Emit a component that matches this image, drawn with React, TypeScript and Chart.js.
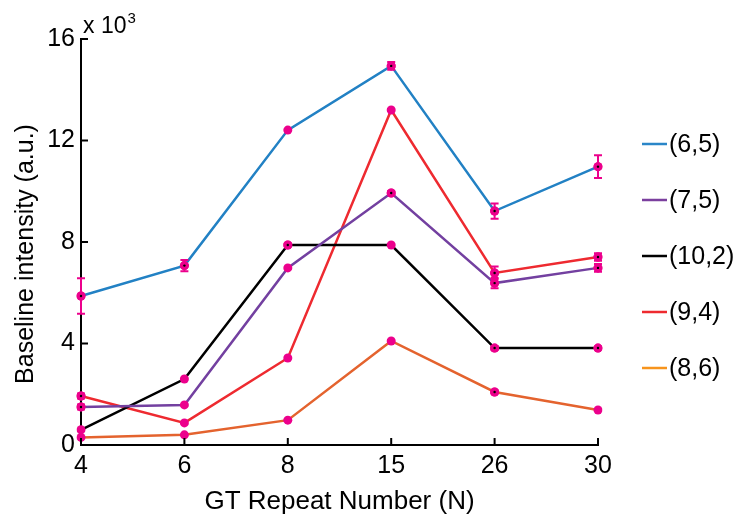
import React, { useEffect, useRef } from "react";
import { Chart, registerables } from "chart.js";

Chart.register(...registerables);

const categories = ["4", "6", "8", "15", "26", "30"];
const seriesNames = ["(6,5)", "(7,5)", "(10,2)", "(9,4)", "(8,6)"];
const s65 = [5.87, 7.07, 12.41, 14.94, 9.22, 10.97];
const s75 = [1.5, 1.58, 6.98, 9.93, 6.38, 6.98];
const s102 = [0.6, 2.6, 7.88, 7.88, 3.82, 3.82];
const s94 = [1.93, 0.87, 3.43, 13.2, 6.78, 7.41];
const s86 = [0.3, 0.4, 0.98, 4.1, 2.09, 1.38];
const e65 = [0.7, 0.22, 0, 0.15, 0.3, 0.45];
const e75 = [0.1, 0, 0, 0.08, 0.2, 0.15];
const e102 = [0, 0, 0.06, 0, 0.08, 0.06];
const e94 = [0.1, 0, 0, 0, 0.25, 0.15];
const e86 = [0, 0, 0, 0, 0.06, 0];
const yTicks = [0, 4, 8, 12, 16];

const lineColors = ["#2281c4", "#7340a0", "#000000", "#ee2a30", "#e4632e"];
const legendColors = ["#2a86c8", "#7b3f9e", "#000000", "#ee2a2f", "#f7941d"];
const markerColor = "#ec008c";
const FONT = "'Liberation Sans', Arial, Helvetica, sans-serif";

export default function App() {
  const ref = useRef<HTMLCanvasElement>(null);
  useEffect(() => {
    if (!ref.current) return;
    const values = [s65, s75, s102, s94, s86];
    const errors = [e65, e75, e102, e94, e86];

    const extras = {
      id: "extras",
      afterDatasetsDraw(chart: any) {
        const ctx = chart.ctx;
        const xs = chart.scales.x;
        const ys = chart.scales.y;
        const area = chart.chartArea;
        ctx.save();
        // error bars
        errors.forEach((errs, di) => {
          errs.forEach((e, i) => {
            if (!e) return;
            const x = xs.getPixelForValue(i);
            const yT = ys.getPixelForValue(values[di][i] + e);
            const yB = ys.getPixelForValue(values[di][i] - e);
            ctx.strokeStyle = markerColor;
            ctx.lineWidth = 2;
            ctx.beginPath();
            ctx.moveTo(x, yT);
            ctx.lineTo(x, yB);
            ctx.moveTo(x - 4, yT);
            ctx.lineTo(x + 4, yT);
            ctx.moveTo(x - 4, yB);
            ctx.lineTo(x + 4, yB);
            ctx.stroke();
            ctx.fillStyle = markerColor;
            ctx.beginPath();
            ctx.arc(x, ys.getPixelForValue(values[di][i]), 4.5, 0, Math.PI * 2);
            ctx.fill();
            ctx.fillStyle = "#000";
            ctx.beginPath();
            ctx.arc(x, ys.getPixelForValue(values[di][i]), 1.2, 0, Math.PI * 2);
            ctx.fill();
          });
        });
        // inward ticks
        ctx.strokeStyle = "#000";
        ctx.lineWidth = 2;
        ctx.beginPath();
        yTicks.forEach((v) => {
          const y = ys.getPixelForValue(v);
          ctx.moveTo(area.left, y);
          ctx.lineTo(area.left + 7, y);
        });
        categories.forEach((_, i) => {
          const x = xs.getPixelForValue(i);
          ctx.moveTo(x, area.bottom);
          ctx.lineTo(x, area.bottom - 7);
        });
        ctx.stroke();
        // multiplier
        ctx.fillStyle = "#000";
        ctx.textBaseline = "alphabetic";
        ctx.textAlign = "left";
        ctx.font = `23px ${FONT}`;
        ctx.fillText("x 10", area.left + 2, 33);
        const w = ctx.measureText("x 10").width;
        ctx.font = `15px ${FONT}`;
        ctx.fillText("3", area.left + 3 + w, 23);
        // x title
        ctx.font = `26px ${FONT}`;
        ctx.textAlign = "center";
        ctx.textBaseline = "middle";
        ctx.fillText("GT Repeat Number (N)", (area.left + area.right) / 2, 502);
        // y title
        ctx.save();
        ctx.translate(26, 254);
        ctx.rotate(-Math.PI / 2);
        ctx.font = `25px ${FONT}`;
        ctx.fillText("Baseline intensity (a.u.)", 0, 0);
        ctx.restore();
        // legend
        const legendY = [144, 200, 256, 312, 368];
        ctx.textAlign = "left";
        ctx.font = `25px ${FONT}`;
        seriesNames.forEach((name, i) => {
          ctx.strokeStyle = legendColors[i];
          ctx.lineWidth = 2.5;
          ctx.beginPath();
          ctx.moveTo(642, legendY[i]);
          ctx.lineTo(667, legendY[i]);
          ctx.stroke();
          ctx.fillStyle = "#000";
          ctx.fillText(name, 669, legendY[i] + 1);
        });
        ctx.restore();
      },
    };

    const chart = new Chart(ref.current, {
      type: "line",
      data: {
        labels: categories,
        datasets: values.map((v, i) => ({
          label: seriesNames[i],
          data: v,
          borderColor: lineColors[i],
          backgroundColor: lineColors[i],
          borderWidth: 2.5,
          pointRadius: 4.5,
          pointBackgroundColor: markerColor,
          pointBorderWidth: 0,
          tension: 0,
          fill: false,
        })),
      },
      options: {
        animation: false,
        responsive: false,
        devicePixelRatio: 1,
        layout: { padding: { top: 39, right: 146, left: 0, bottom: 0 } },
        plugins: { legend: { display: false }, tooltip: { enabled: false } },
        scales: {
          x: {
            type: "category",
            offset: false,
            grid: { drawOnChartArea: false, drawTicks: false },
            border: { display: true, color: "#000", width: 2 },
            ticks: { color: "#000", font: { size: 25, family: FONT }, padding: 6, maxRotation: 0 },
            afterFit: (s: any) => {
              s.height = 71;
            },
          },
          y: {
            min: 0,
            max: 16,
            grid: { drawOnChartArea: false, drawTicks: false },
            border: { display: true, color: "#000", width: 2 },
            ticks: { stepSize: 4, color: "#000", font: { size: 25, family: FONT }, padding: 6 },
            afterFit: (s: any) => {
              s.width = 81;
            },
          },
        },
      },
      plugins: [extras],
    });
    return () => chart.destroy();
  }, []);
  return (
    <div style={{ position: "absolute", left: 0, top: 0, width: 744, height: 516, background: "#fff" }}>
      <canvas ref={ref} width={744} height={516} />
    </div>
  );
}
